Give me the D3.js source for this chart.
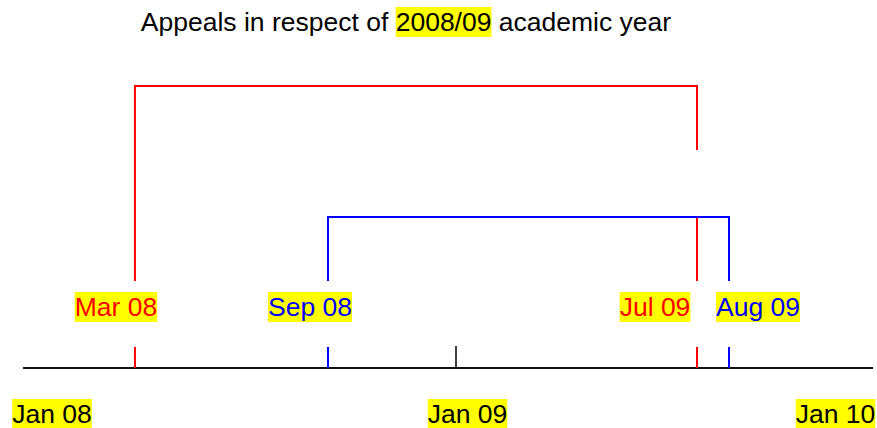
<!DOCTYPE html>
<html>
<head>
<meta charset="utf-8">
<script src="https://cdn.jsdelivr.net/npm/d3@7"></script>
<style>
  body { margin: 0; background: #fff; }
  text { font-family: "Liberation Sans", Arial, sans-serif; }
</style>
</head>
<body>
<script>
// appeal windows: start and end of each bracket
const bracketStart = [new Date(2008, 2, 1), new Date(2008, 8, 1)];
const bracketEnd = [new Date(2009, 6, 1), new Date(2009, 7, 1)];
const startLabels = ["Mar 08", "Sep 08"];
const endLabels = ["Jul 09", "Aug 09"];
const bracketColors = ["#ff0000", "#0000ff"];

// axis
const axisDates = [new Date(2008, 0, 1), new Date(2009, 0, 1), new Date(2010, 0, 1)];
const axisLabels = ["Jan 08", "Jan 09", "Jan 10"];

const titleText = "Appeals in respect of 2008/09 academic year";
const titleMark = "2008/09";

const width = 877, height = 428;
const fontSize = 26.5;
const yellow = "#ffff00";

const svg = d3.select("body").append("svg")
  .attr("width", width)
  .attr("height", height);

// schematic time axis (not evenly spaced in the source drawing)
const x = d3.scaleTime()
  .domain([axisDates[0], axisDates[1], bracketEnd[0], axisDates[2]])
  .range([72, 456, 697, 887]);

const axisY = 368;
const tickTop = 347;
const legBottom = 281;
const labelBase = 316;
const bracketTop = [86, 217];

const startNudge = [-19, -18];
const endNudge = [-42, 29];
const axisNudge = [-20, 11.5, -51.5];

const labelWithBg = (g, xc, yb, str, color) => {
  const t = g.append("text")
    .attr("x", xc)
    .attr("y", yb)
    .attr("text-anchor", "middle")
    .attr("font-size", fontSize)
    .attr("fill", color)
    .text(str);
  const b = t.node().getBBox();
  g.insert("rect", "text")
    .attr("x", b.x)
    .attr("y", b.y)
    .attr("width", b.width)
    .attr("height", b.height)
    .attr("fill", yellow);
};

// title with highlighted year
const title = svg.append("text")
  .attr("x", 406)
  .attr("y", 31)
  .attr("text-anchor", "middle")
  .attr("font-size", fontSize)
  .attr("fill", "#000")
  .text(titleText);
const tb = title.node().getBBox();
const idx = titleText.indexOf(titleMark);
const pre = title.node().getSubStringLength(0, idx);
const markW = title.node().getSubStringLength(idx, titleMark.length);
svg.insert("rect", "text")
  .attr("x", tb.x + pre)
  .attr("y", tb.y)
  .attr("width", markW)
  .attr("height", tb.height)
  .attr("fill", yellow);

// axis line
svg.append("line")
  .attr("x1", 23).attr("x2", 873)
  .attr("y1", axisY).attr("y2", axisY)
  .attr("stroke", "#111")
  .attr("stroke-width", 2);

// middle axis tick
svg.append("line")
  .attr("x1", x(axisDates[1])).attr("x2", x(axisDates[1]))
  .attr("y1", tickTop - 1).attr("y2", axisY)
  .attr("stroke", "#000")
  .attr("stroke-width", 1.5);

const axisG = svg.append("g");
axisDates.forEach((d, i) => {
  labelWithBg(axisG.append("g"), x(d) + axisNudge[i], 423, axisLabels[i], "#000");
});

// brackets
const br = svg.append("g");
bracketStart.forEach((s, i) => {
  const e = bracketEnd[i];
  const c = bracketColors[i];
  const x0 = x(s), x1 = x(e), top = bracketTop[i];

  const path = d3.path();
  path.moveTo(x0, legBottom);
  path.lineTo(x0, top);
  path.lineTo(x1, top);
  if (i === 0) {
    // right leg is broken where the second bracket sits
    path.lineTo(x1, 150);
    path.moveTo(x1, bracketTop[1]);
  }
  path.lineTo(x1, legBottom);

  br.append("path")
    .attr("d", path.toString())
    .attr("fill", "none")
    .attr("stroke", c)
    .attr("stroke-width", 2);

  [x0, x1].forEach(xx => {
    br.append("line")
      .attr("x1", xx).attr("x2", xx)
      .attr("y1", tickTop).attr("y2", axisY)
      .attr("stroke", c)
      .attr("stroke-width", 2);
  });

  labelWithBg(br.append("g"), x0 + startNudge[i], labelBase, startLabels[i], c);
  labelWithBg(br.append("g"), x1 + endNudge[i], labelBase, endLabels[i], c);
});
</script>
</body>
</html>
